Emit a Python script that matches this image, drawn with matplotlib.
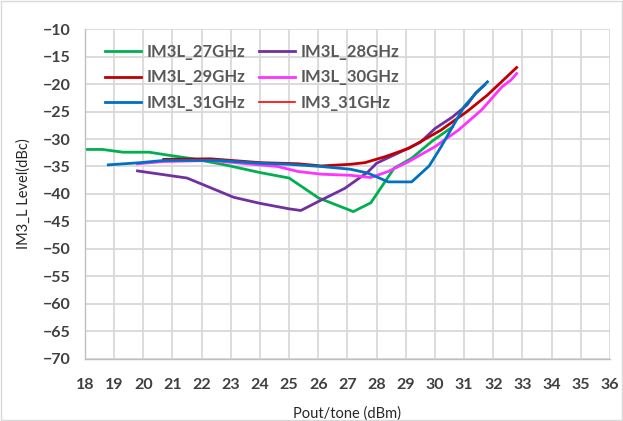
import matplotlib
matplotlib.use("Agg")
import matplotlib.pyplot as plt
from matplotlib.patches import Rectangle

plt.rcParams['font.family'] = ['Lato', 'DejaVu Sans']

# IM3 lower-sideband level versus output power per tone
x_27 = [18.0, 18.6, 19.3, 20.2, 20.8, 21.7, 22.8, 24.0, 25.0, 26.0, 27.2, 27.8, 28.6, 29.2, 29.9, 30.6]
y_27 = [-31.9, -31.9, -32.4, -32.4, -32.9, -33.6, -34.7, -36.1, -37.1, -40.7, -43.2, -41.6, -35.3, -33.5, -30.4, -27.8]

x_28 = [19.8, 21.5, 23.1, 24.0, 25.0, 25.4, 26.1, 26.9, 27.7, 28.0, 28.8, 29.5, 30.0, 30.6, 31.1, 31.4, 31.7]
y_28 = [-35.8, -37.1, -40.6, -41.7, -42.7, -43.0, -41.1, -39.0, -36.0, -34.4, -32.4, -30.6, -28.1, -26.0, -23.8, -21.6, -20.2]

x_29 = [20.7, 22.3, 24.0, 25.3, 26.1, 27.1, 27.6, 28.3, 29.1, 29.6, 30.2, 31.1, 31.8, 32.4, 32.8]
y_29 = [-33.7, -33.6, -34.3, -34.5, -34.9, -34.6, -34.3, -33.2, -31.7, -30.2, -28.4, -25.0, -22.0, -19.0, -17.0]

x_30 = [19.8, 20.7, 22.3, 24.6, 25.3, 26.1, 27.1, 27.8, 28.4, 29.1, 30.0, 30.8, 31.6, 32.3, 32.6, 32.8]
y_30 = [-34.5, -34.1, -33.9, -35.0, -35.9, -36.4, -36.6, -37.0, -35.9, -34.1, -31.4, -28.4, -24.7, -20.5, -19.3, -18.1]

x_31 = [18.8, 19.9, 20.7, 22.6, 24.0, 25.0, 26.1, 27.1, 27.7, 28.4, 29.2, 29.8, 30.2, 30.6, 31.0, 31.4, 31.8]
y_31 = [-34.7, -34.3, -33.9, -33.9, -34.4, -34.6, -35.0, -35.5, -36.2, -37.8, -37.8, -34.9, -31.5, -27.8, -24.1, -21.7, -19.6]

# IM3_31GHz has no plotted points; it only appears in the legend
x_im3_31 = []
y_im3_31 = []

series = [
    ("IM3L_27GHz", x_27, y_27, "#00B050", 2.0),
    ("IM3L_28GHz", x_28, y_28, "#7030A0", 2.0),
    ("IM3L_29GHz", x_29, y_29, "#C00000", 2.0),
    ("IM3L_30GHz", x_30, y_30, "#FF33FF", 2.0),
    ("IM3L_31GHz", x_31, y_31, "#0070C0", 2.0),
    ("IM3_31GHz", x_im3_31, y_im3_31, "#FF0000", 1.2),
]

x_ticks = list(range(18, 37))
y_ticks = list(range(-70, -5, 5))

fig = plt.figure(figsize=(6.23, 4.21), dpi=100)
fig.patches.append(Rectangle((0.002, 0.002), 0.996, 0.996, transform=fig.transFigure,
                             fill=False, edgecolor="#D9D9D9", linewidth=1.0))
ax = fig.add_axes([0.1364, 0.1473, 0.9791 - 0.1364, 0.9311 - 0.1473])

handles = []
for label, xs, ys, color, lw in series:
    h, = ax.plot(xs, ys, color=color, linewidth=lw, label=label, solid_joinstyle="round")
    handles.append(h)

ax.set_xlim(18, 36)
ax.set_ylim(-70, -10)
ax.set_xticks(x_ticks)
ax.set_yticks(y_ticks)
ax.grid(True, color="#D9D9D9", linewidth=1.3)
ax.set_axisbelow(True)
for side in ("top", "right"):
    ax.spines[side].set_visible(False)
for side in ("left", "bottom"):
    ax.spines[side].set_color("#BFBFBF")
    ax.spines[side].set_linewidth(1.0)
ax.tick_params(length=0, labelsize=11.5, labelcolor="#404040")
ax.tick_params(axis="x", pad=14)
ax.tick_params(axis="y", pad=10)
for t in ax.get_xticklabels() + ax.get_yticklabels():
    t.set_fontweight("bold")

ax.set_xlabel("Pout/tone (dBm)", fontsize=10.5, color="#262626", labelpad=10)
ax.set_ylabel("IM3_L Level(dBc)", fontsize=10.5, color="#262626", labelpad=9)

# legend reads row by row: column-major order for a 2-column layout
order = [0, 2, 4, 1, 3, 5]
leg = ax.legend([handles[i] for i in order], [series[i][0] for i in order],
                ncol=2, loc="upper left", bbox_to_anchor=(0.025, 0.974), frameon=False,
                fontsize=12, handlelength=2.2, handletextpad=0.3, columnspacing=0.8,
                labelspacing=0.55, borderaxespad=0.0)
for t in leg.get_texts():
    t.set_color("#595959")
    t.set_fontweight("bold")

fig.savefig("out.png", dpi=100)
